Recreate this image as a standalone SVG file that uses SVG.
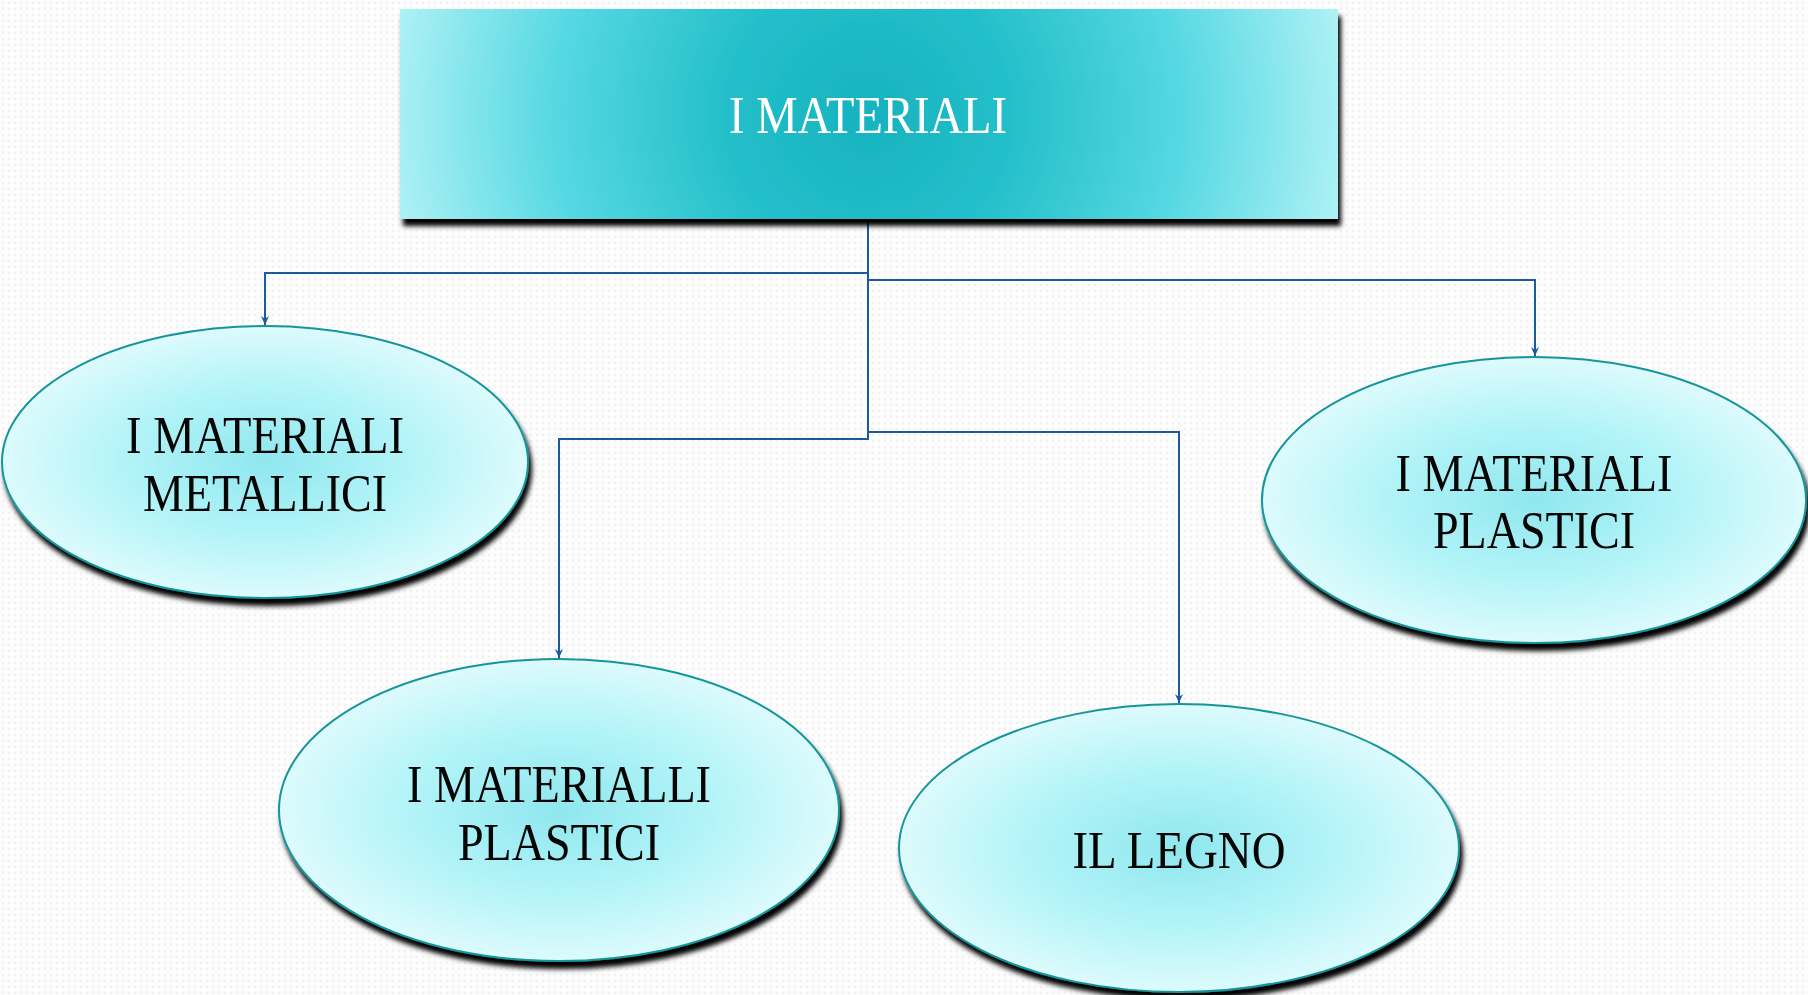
<svg xmlns="http://www.w3.org/2000/svg" width="1808" height="995" viewBox="0 0 1808 995">
<style>
.lbl{font-family:"Liberation Serif","DejaVu Serif",serif;font-size:52px;text-anchor:middle;fill:#050505}
.title{fill:#ffffff}
.oval{fill:url(#ovalGrad);stroke:#14959b;stroke-width:2}
.conn{fill:none;stroke:#1d5a9c;stroke-width:2}
</style>
<defs>
<pattern id="dots" width="6" height="6" patternUnits="userSpaceOnUse">
<rect width="6" height="6" fill="#fdfdfd"/>
<circle cx="3" cy="3" r="1.4" fill="#f2f2f2"/>
</pattern>
<radialGradient id="rectGrad" gradientUnits="userSpaceOnUse" cx="868" cy="114" r="480">
<stop offset="0" stop-color="#16b3bf"/>
<stop offset="0.3" stop-color="#24bfca"/>
<stop offset="0.65" stop-color="#55d8e2"/>
<stop offset="1" stop-color="#aef1f5"/>
</radialGradient>
<radialGradient id="ovalGrad" cx="0.5" cy="0.5" r="0.55">
<stop offset="0" stop-color="#8fe7ee"/>
<stop offset="0.5" stop-color="#b3f4f8"/>
<stop offset="1" stop-color="#e6fcfd"/>
</radialGradient>
<filter id="shadow" x="-5%" y="-5%" width="115%" height="120%">
<feGaussianBlur in="SourceAlpha" stdDeviation="2.5"/>
<feOffset dx="3" dy="7" result="b"/>
<feFlood flood-color="#000" flood-opacity="1"/>
<feComposite in2="b" operator="in" result="s"/>
<feMerge><feMergeNode in="s"/><feMergeNode in="SourceGraphic"/></feMerge>
</filter>
<marker id="arrow" markerWidth="10" markerHeight="10" refX="9" refY="5" orient="auto" markerUnits="userSpaceOnUse">
<path d="M0,1 L9,5 L0,9 L3,5 Z" fill="#1d5a9c"/>
</marker>
</defs>
<rect width="1808" height="995" fill="url(#dots)"/>

<g id="connectors">
<polyline class="conn" points="868,219 868,273 265,273 265,325" marker-end="url(#arrow)"/>
<polyline class="conn" points="868,219 868,280 1535,280 1535,356" marker-end="url(#arrow)"/>
<polyline class="conn" points="868,219 868,439 559,439 559,658" marker-end="url(#arrow)"/>
<polyline class="conn" points="868,432 1179,432 1179,703" marker-end="url(#arrow)"/>
</g>

<g id="root">
<rect x="400" y="9" width="938" height="210" fill="url(#rectGrad)" filter="url(#shadow)"/>
<text class="lbl title" x="868" y="133" textLength="278" lengthAdjust="spacingAndGlyphs">I MATERIALI</text>
</g>

<g id="metallici">
<ellipse class="oval" cx="265" cy="462" rx="263" ry="136" filter="url(#shadow)"/>
<text class="lbl" x="265" y="453" textLength="278" lengthAdjust="spacingAndGlyphs">I MATERIALI</text>
<text class="lbl" x="265" y="511" textLength="244" lengthAdjust="spacingAndGlyphs">METALLICI</text>
</g>

<g id="plastici-right">
<ellipse class="oval" cx="1534" cy="500" rx="272" ry="143" filter="url(#shadow)"/>
<text class="lbl" x="1534" y="491" textLength="277" lengthAdjust="spacingAndGlyphs">I MATERIALI</text>
<text class="lbl" x="1534" y="548" textLength="202" lengthAdjust="spacingAndGlyphs">PLASTICI</text>
</g>

<g id="plastici-left">
<ellipse class="oval" cx="559" cy="810" rx="280" ry="151" filter="url(#shadow)"/>
<text class="lbl" x="559" y="802" textLength="304" lengthAdjust="spacingAndGlyphs">I MATERIALLI</text>
<text class="lbl" x="559" y="860" textLength="202" lengthAdjust="spacingAndGlyphs">PLASTICI</text>
</g>

<g id="legno">
<ellipse class="oval" cx="1179" cy="848" rx="280" ry="144" filter="url(#shadow)"/>
<text class="lbl" x="1179" y="868" textLength="213" lengthAdjust="spacingAndGlyphs">IL LEGNO</text>
</g>
</svg>
